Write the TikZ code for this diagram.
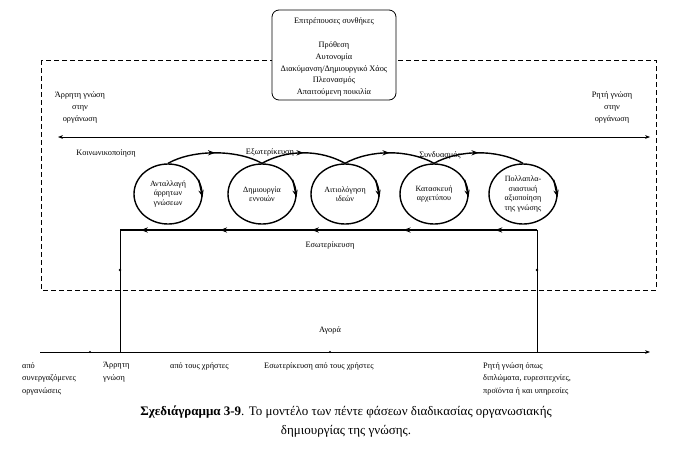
\documentclass[tikz,border=0pt]{standalone}
\usepackage{fontspec}
\setmainfont{Liberation Serif}
\usetikzlibrary{arrows.meta,shapes.geometric,decorations.markings}
\tikzset{
  lbl/.style={font=\fontsize{8.3}{9.5}\selectfont, align=center, inner sep=1pt},
  lbll/.style={font=\fontsize{8.3}{12.5}\selectfont, align=left, inner sep=0pt, anchor=north west},
  phase/.style={ellipse, draw, line width=1.4pt, minimum width=68pt, minimum height=60pt, inner sep=0pt, font=\fontsize{8}{9.5}\selectfont, align=center},
  flow/.style={line width=1.4pt},
  midarrow/.style={postaction={decorate}, decoration={markings, mark=at position 0.5 with {\arrow{Stealth[length=7pt]}}}},
  tipdown/.style={-{Stealth[length=7pt]}, line width=1.4pt},
}
\begin{document}
\begin{tikzpicture}[x=1pt,y=-1pt]
\useasboundingbox (0,0) rectangle (692,453);
% dashed organisation frame
\draw[dash pattern=on 5pt off 3pt, line width=0.6pt] (41,60) rectangle (656,290);
% enabling conditions box
\node[draw, rounded corners=7pt, fill=white, line width=0.8pt, minimum width=124pt, minimum height=90pt] (box) at (334,55) {};
\node[lbl] (boxt) at (334,21) {Επιτρέπουσες συνθήκες};
\node[lbl, font=\fontsize{8.3}{11.8}\selectfont] (boxl) at (334,69) {Πρόθεση\\Αυτονομία\\Διακύμανση/Δημιουργικό Χάος\\Πλεονασμός\\Απαιτούμενη ποικιλία};
% tacit / explicit axis
\node[lbl, font=\fontsize{8.3}{12}\selectfont] (tac) at (80,107) {Άρρητη γνώση\\στην\\οργάνωση};
\node[lbl, font=\fontsize{8.3}{12}\selectfont] (exp) at (612,107) {Ρητή γνώση\\στην\\οργάνωση};
\coordinate (al) at (58,137);
\coordinate (ar) at (650,137);
\draw[{Stealth[length=5pt]}-{Stealth[length=5pt]}, line width=0.6pt] (al) -- (ar);
% phase labels
\node[lbl] (soc) at (106,153) {Κοινωνικοποίηση};
\node[lbl] (ext) at (270,152) {Εξωτερίκευση};
\node[lbl] (comb) at (440,155) {Συνδυασμός};
% phases
\node[phase] (c1) at (168,194) {Ανταλλαγή\\άρρητων\\γνώσεων};
\node[phase] (c2) at (262,194) {Δημιουργία\\εννοιών};
\node[phase] (c3) at (345,194) {Αιτιολόγηση\\ιδεών};
\node[phase] (c4) at (434,194) {Κατασκευή\\αρχετύπου};
\node[phase] (c5) at (523,194) {Πολλαπλα-\\σιαστική\\αξιοποίηση\\της γνώσης};
\foreach \i in {c1,c2,c3,c4,c5} {\draw[tipdown] (\i.25) -- (\i.-5);}
\foreach \a/\b in {c1/c2,c2/c3,c3/c4,c4/c5}
  {\draw[flow, midarrow] (\a.north) .. controls +(25,-14) and +(-25,-14) .. (\b.north);}
% internalisation return line
\coordinate (bl) at (120,230);
\coordinate (br) at (537,230);
\draw[flow, postaction={decorate}, decoration={markings,
  mark=at position 0.1 with {\arrow{Stealth[length=7pt]}},
  mark=at position 0.32 with {\arrow{Stealth[length=7pt]}},
  mark=at position 0.54 with {\arrow{Stealth[length=7pt]}},
  mark=at position 0.76 with {\arrow{Stealth[length=7pt]}},
  mark=at position 0.95 with {\arrow{Stealth[length=7pt]}}}] (br) -- (bl);
\node[lbl] (int) at (330,245) {Εσωτερίκευση};
% market
\coordinate (xl) at (40,352);
\coordinate (xr) at (650,352);
\coordinate (ml) at (120,352);
\coordinate (mr) at (537,352);
\draw[line width=0.9pt] (bl) -- (ml);
\draw[line width=0.9pt] (br) -- (mr);
\fill (120,270) circle (1.3pt);
\fill (537,270) circle (1.3pt);
\draw[line width=0.9pt, -{Stealth[length=5pt]}] (xl) -- (xr);
\fill (90,352) circle (1.2pt);
\fill (330,352) circle (1.2pt);
\node[lbl] (mkt) at (330,330) {Αγορά};
\node[lbll] (m1) at (22,362) {από\\συνεργαζόμενες\\οργανώσεις};
\node[lbll] (m2) at (103,362) {Άρρητη\\γνώση};
\node[lbll] (m3) at (170,362) {από τους χρήστες};
\node[lbll] (m4) at (264,362) {Εσωτερίκευση από τους χρήστες};
\node[lbll] (m5) at (483,362) {Ρητή γνώση όπως\\διπλώματα, ευρεσιτεχνίες,\\προϊόντα ή και υπηρεσίες};
% caption
\node[font=\fontsize{13}{19}\selectfont, align=center] (cap) at (346,422) {\textbf{Σχεδιάγραμμα 3-9}. Το μοντέλο των πέντε φάσεων διαδικασίας οργανωσιακής\\δημιουργίας της γνώσης.};
\end{tikzpicture}
\end{document}
